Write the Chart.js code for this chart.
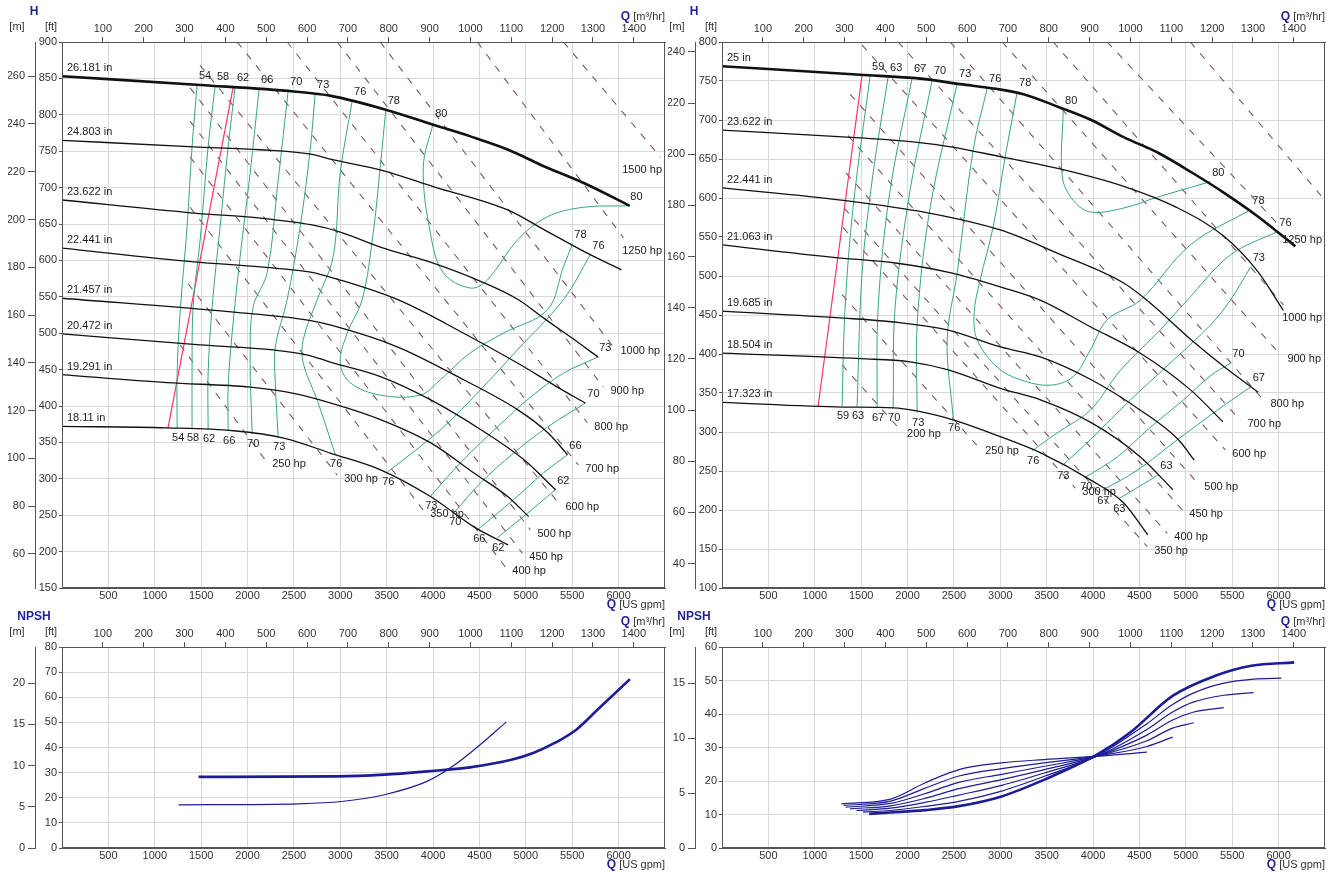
<!DOCTYPE html>
<html>
<head>
<meta charset="utf-8">
<title>Pump performance curves</title>
<script src="https://cdn.jsdelivr.net/npm/chart.js@4.4.1/dist/chart.umd.min.js"></script>
<style>
	html, body { margin: 0; padding: 0; background: #fff; }
	body { width: 1330px; height: 873px; position: relative; overflow: hidden; }
	.panel { position: absolute; }
	.panel canvas { display: block; }
</style>
</head>
<body>
<div class="panel" style="left:0;top:0;width:668px;height:612px"><canvas id="headA"></canvas></div>
<div class="panel" style="left:660px;top:0;width:670px;height:612px"><canvas id="headB"></canvas></div>
<div class="panel" style="left:0;top:610px;width:668px;height:263px"><canvas id="npshA"></canvas></div>
<div class="panel" style="left:660px;top:610px;width:670px;height:263px"><canvas id="npshB"></canvas></div>
<script>
"use strict";

// units
var QMAX = 6500;              // US gpm
var GPM_PER_M3H = 4.402868;
var FT_PER_M = 3.28084;

// ---- pump A (left) : head [ft] vs flow [US gpm] ----
var diamA = ["26.181 in", "24.803 in", "23.622 in", "22.441 in", "21.457 in", "20.472 in", "19.291 in", "18.11 in"];
var headA = [
	[[0,853],[1490,841],[2500,832],[2900,826],[3490,807],[4010,786],[4410,770],[4810,752],[5200,729],[5630,706],[6120,675]],
	[[0,765],[1420,756],[2140,752],[2680,746],[2930,738],[3440,724],[4010,701],[4810,669],[5200,642],[5630,612],[6030,587]],
	[[0,683],[1420,665],[2140,658],[2680,649],[3000,639],[3440,618],[4010,596],[4500,572],[4920,546],[5200,520],[5490,494],[5780,467]],
	[[0,617],[1420,598],[2140,591],[2680,584],[3000,573],[3620,546],[4330,500],[4910,459],[5340,426],[5640,404]],
	[[0,548],[1850,529],[2650,518],[2900,511],[3620,481],[4330,436],[4910,395],[5240,363],[5450,333]],
	[[0,499],[1490,484],[2280,477],[2650,470],[2900,460],[3440,440],[3980,408],[4520,367],[4980,326],[5320,285]],
	[[0,443],[1130,432],[2030,426],[2470,418],[2900,404],[3440,381],[3980,349],[4440,308],[4810,275],[5030,248]],
	[[0,372],[1130,370],[1850,366],[2390,356],[2900,335],[3440,312],[3980,275],[4440,234],[4810,209]]
];
var effA = ["54", "58", "62", "66", "70", "73", "76", "78", "80", "76", "73", "70", "66", "62"];
var effCurvesA = [
	[[1241,370],[1241,445],[1273,528],[1348,646],[1402,756],[1456,841]],
	[[1402,370],[1402,445],[1413,536],[1489,628],[1575,756],[1650,839]],
	[[1575,368],[1575,445],[1618,536],[1704,646],[1791,756],[1866,838]],
	[[1791,366],[1791,426],[1834,500],[1920,605],[2028,720],[2125,836]],
	[[2050,362],[2028,467],[2060,536],[2211,583],[2330,710],[2438,833]],
	[[2330,357],[2298,436],[2298,481],[2427,546],[2567,646],[2675,752],[2729,829]],
	[[2945,334],[2751,408],[2600,459],[2600,491],[2751,546],[2923,605],[2999,720],[3128,819]],
	[[3490,807],[3430,728],[3355,638],[3236,546],[3074,500],[2999,459],[3107,432],[3430,415],[3862,415],[4078,436],[4401,473],[4757,500],[5232,532],[5405,591],[5502,622]],
	[[4002,789],[3894,728],[3970,638],[4110,583],[4401,562],[4585,573],[4908,628],[5232,660],[5620,673],[6106,675]],
	[[3506,309],[4078,367],[4509,422],[4908,477],[5405,546],[5696,608]],
	[[3970,276],[4326,326],[4693,371],[5049,412],[5405,445],[5771,467]],
	[[4229,254],[4509,294],[4865,335],[5232,371],[5642,404]],
	[[4488,231],[4865,271],[5189,308],[5448,333]],
	[[4693,219],[4973,248],[5318,285]]
];
var hpA = ["250 hp", "300 hp", "350 hp", "400 hp", "450 hp", "500 hp", "600 hp", "700 hp", "800 hp", "900 hp", "1000 hp", "1250 hp", "1500 hp"];
var hpLinesA = [
	[[1273,484],[2190,326]],
	[[1359,568],[2967,305]],
	[[1381,673],[3894,257]],
	[[1381,742],[4779,179]],
	[[1381,791],[4962,198]],
	[[1381,837],[5049,230]],
	[[1489,868],[5351,267]],
	[[1888,900],[5566,319]],
	[[2427,900],[5663,377]],
	[[2967,900],[5836,426]],
	[[3430,900],[5944,481]],
	[[4477,900],[6052,631]],
	[[5405,900],[6451,742]]
];
var minFlowA = [[1143,370],[1845,838]];
var npshA = [
	[[1472,28.3],[2963,28.5],[3474,29.2],[3935,30.5],[4396,32.1],[4855,35.2],[5086,37.9],[5316,41.9],[5547,47.2],[5777,55.2],[6122,67.2]],
	[[1256,17.2],[2554,17.6],[3014,18.5],[3474,21.2],[3935,26.5],[4211,32.5],[4488,40.5],[4787,50.1]]
];

// ---- pump B (right) ----
var diamB = ["25 in", "23.622 in", "22.441 in", "21.063 in", "19.685 in", "18.504 in", "17.323 in"];
var headB = [
	[[0,769],[1490,758],[2140,753],[2570,746],[2950,740],[3250,733],[3620,717],[3980,700],[4330,678],[4700,658],[5060,633],[5420,606],[5780,576],[6180,538]],
	[[0,687],[1490,677],[2060,672],[2500,665],[3000,653],[3620,638],[4330,615],[4900,588],[5420,550],[5780,505],[6050,456]],
	[[0,613],[1310,597],[2220,581],[3000,559],[3620,529],[4330,491],[4600,467],[5060,418],[5420,383],[5780,351]],
	[[0,540],[1200,524],[1850,517],[2470,504],[3000,486],[3430,469],[3970,435],[4510,401],[5050,354],[5400,313]],
	[[0,455],[1310,446],[1850,441],[2430,431],[3000,409],[3440,396],[3980,367],[4510,328],[4920,290],[5090,264]],
	[[0,401],[1490,394],[2030,390],[2430,380],[3000,356],[3440,341],[3980,312],[4510,268],[4860,226]],
	[[0,338],[1310,332],[1850,331],[2390,319],[3000,294],[3440,273],[3980,238],[4330,209],[4590,168]]
];
var effB = ["59", "63", "67", "70", "73", "76", "78", "80", "76", "73", "70", "67", "63"];
var effCurvesB = [
	[[1294,333],[1327,460],[1413,588],[1597,757]],
	[[1456,333],[1510,504],[1629,632],[1791,755]],
	[[1672,331],[1683,460],[1812,610],[2050,754]],
	[[1845,331],[1866,460],[2028,610],[2265,751]],
	[[2104,325],[2104,440],[2244,588],[2535,747]],
	[[2492,318],[2427,418],[2535,504],[2708,662],[2859,741]],
	[[3182,736],[3053,653],[2923,563],[2783,495],[2718,453],[2751,418],[2967,383],[3215,367],[3538,360],[3786,371],[3970,405],[4153,444],[4509,469],[5049,540],[5696,585]],
	[[3678,713],[3668,627],[3786,597],[3970,582],[4326,587],[4693,601],[5264,621]],
	[[3344,276],[3614,299],[3970,328],[4294,379],[4725,431],[5016,469],[5480,527],[5987,557]],
	[[3668,257],[3970,290],[4401,341],[4865,392],[5264,437],[5480,469],[5700,512]],
	[[3916,242],[4261,268],[4617,306],[4973,341],[5264,372],[5480,388]],
	[[4099,225],[4477,251],[4908,290],[5340,328],[5700,358]],
	[[4272,214],[4704,245]]
];
var hpB = ["200 hp", "250 hp", "300 hp", "350 hp", "400 hp", "450 hp", "500 hp", "600 hp", "700 hp", "800 hp", "900 hp", "1000 hp", "1250 hp", ""];
var hpLinesB = [
	[[1294,386],[1920,303]],
	[[1294,476],[2762,281]],
	[[1305,562],[3808,228]],
	[[1316,587],[4585,153]],
	[[1338,632],[4800,170]],
	[[1359,680],[4962,200]],
	[[1381,733],[5124,235]],
	[[1510,796],[5426,277]],
	[[1899,800],[5588,315]],
	[[2459,800],[5836,341]],
	[[3020,800],[6019,399]],
	[[3571,800],[6052,463]],
	[[4153,800],[6019,563]],
	[[5049,800],[6500,597]]
];
var minFlowB = [[1036,333],[1510,758]];
var npshB = [
	[[1587,10.2],[1818,10.6],[2185,11.3],[2554,12.5],[3014,15.4],[3475,20.4],[4051,28.0],[4396,34.4],[4857,45.4],[5317,51.4],[5706,54.4],[6168,55.4]],
	[[1518,10.7],[1818,11.2],[2185,12.4],[2554,13.9],[3014,17.0],[3475,21.4],[4051,27.6],[4580,37.1],[4857,42.8],[5086,46.3],[5409,49.2],[5731,50.4],[6030,50.7]],
	[[1449,11.2],[1818,11.9],[2185,13.6],[2554,15.8],[3014,18.7],[3475,22.4],[4051,27.5],[4580,35.4],[4857,40.6],[5086,43.6],[5409,45.6],[5731,46.4]],
	[[1380,11.7],[1818,12.6],[2185,14.8],[2554,17.7],[3014,20.4],[3475,23.4],[4051,27.5],[4580,33.7],[4857,38.2],[5086,40.6],[5409,41.9]],
	[[1334,12.2],[1818,13.3],[2185,16.2],[2554,19.6],[3014,22.0],[3475,24.4],[4051,27.5],[4580,32.0],[4857,35.8],[5086,37.4]],
	[[1311,12.7],[1818,14.0],[2185,17.8],[2554,21.5],[3014,23.7],[3475,25.4],[4051,27.5],[4580,30.3],[4857,33.1]],
	[[1288,13.2],[1818,14.6],[2185,19.4],[2554,23.4],[3014,25.4],[3475,26.4],[4051,27.4],[4580,28.6]]
];

// ---- styles ----
var FONT = '"Liberation Sans", Arial, sans-serif';
var GRID = '#d9d9d9';
var AXIS = '#555';
var BLUE = '#1f1f99';
var GREEN = '#38a57c';
var RED = '#ff3366';
var DASH = '#7a5a5a';
var NAVY = '#1c1c96';

Chart.defaults.font.family = FONT;
Chart.defaults.font.size = 11;
Chart.defaults.color = '#333';

function xy(list) {
	return list.map(function (p) { return { x: p[0], y: p[1] }; });
}

function keepEvery(step, skipZero, skipMax) {
	return function (axis) {
		axis.ticks = axis.ticks.filter(function (t) {
			var r = t.value / step;
			if (Math.abs(r - Math.round(r)) > 1e-6) return false;
			if (skipZero && Math.abs(t.value) < 1e-9) return false;
			if (skipMax && t.value >= axis.max - 1e-9) return false;
			return true;
		});
	};
}
function fixWidth(w) { return function (axis) { axis.width = w; }; }
function fixHeight(h) { return function (axis) { axis.height = h; }; }
function plain(v) { return String(Math.round(v * 1000) / 1000); }

function buildScales(ftMin, ftMax, ftStep, mStep) {
	return {
		x: {
			type: 'linear', position: 'bottom', min: 0, max: QMAX,
			ticks: { stepSize: 500, padding: 0, maxRotation: 0, autoSkip: false, includeBounds: false, callback: plain },
			afterBuildTicks: keepEvery(500, true, true),
			afterFit: fixHeight(14),
			grid: { color: GRID, tickLength: 1, tickColor: AXIS },
			border: { color: AXIS }
		},
		xm: {
			type: 'linear', position: 'top', min: 0, max: QMAX / GPM_PER_M3H,
			ticks: { stepSize: 100, padding: 1, maxRotation: 0, autoSkip: false, includeBounds: false, callback: plain },
			afterBuildTicks: keepEvery(100, true, true),
			afterFit: fixHeight(28),
			grid: { drawOnChartArea: false, tickLength: 5, tickColor: AXIS },
			border: { color: AXIS }
		},
		y: {
			type: 'linear', position: 'left', weight: 0, min: ftMin, max: ftMax,
			ticks: { stepSize: ftStep, padding: 2, autoSkip: false, callback: plain },
			afterFit: fixWidth(27),
			grid: { color: GRID, tickLength: 3, tickColor: AXIS },
			border: { color: AXIS }
		},
		ym: {
			type: 'linear', position: 'left', weight: 1, min: ftMin / FT_PER_M, max: ftMax / FT_PER_M,
			ticks: { stepSize: mStep, padding: 3, autoSkip: false, includeBounds: false, callback: plain },
			afterBuildTicks: keepEvery(mStep, false, false),
			afterFit: fixWidth(27),
			grid: { drawOnChartArea: false, tickLength: 7, tickColor: AXIS },
			border: { color: AXIS }
		}
	};
}

function lineSet(points, color, width, extra) {
	var d = {
		data: xy(points), showLine: true, fill: false,
		borderColor: color, borderWidth: width,
		pointRadius: 0, pointHoverRadius: 0,
		xAxisID: 'x', yAxisID: 'y'
	};
	for (var k in extra) d[k] = extra[k];
	return d;
}

// frame round the plot
var frame = {
	id: 'frame',
	afterDraw: function (chart) {
		var a = chart.chartArea, c = chart.ctx;
		c.save();
		c.strokeStyle = AXIS;
		c.lineWidth = 1;
		c.strokeRect(Math.round(a.left) + 0.5, Math.round(a.top) + 0.5, Math.round(a.right - a.left) - 1, Math.round(a.bottom - a.top) - 1);
		c.restore();
	}
};

function qTitle(c, unit, right, y) {
	c.textAlign = 'left';
	c.font = '11px ' + FONT;
	var wu = c.measureText(' ' + unit).width;
	c.font = 'bold 12px ' + FONT;
	var wq = c.measureText('Q').width;
	var x = right - wu - wq;
	c.fillStyle = BLUE;
	c.fillText('Q', x, y);
	c.font = '11px ' + FONT;
	c.fillStyle = '#333';
	c.fillText(' ' + unit, x + wq, y);
}

function titles(name) {
	return {
		id: 'titles',
		afterDraw: function (chart) {
			var a = chart.chartArea, c = chart.ctx, m = chart.scales.ym;
			c.save();
			c.textBaseline = 'middle';
			c.textAlign = 'center';
			c.fillStyle = BLUE;
			c.font = 'bold 12px ' + FONT;
			c.fillText(name, m.right - 1, a.top - 30);
			c.fillStyle = '#333';
			c.font = '11px ' + FONT;
			c.fillText('[m]', m.right - 18, a.top - 15);
			c.fillText('[ft]', a.left - 11, a.top - 15);
			qTitle(c, '[m\u00b3/hr]', a.right, a.top - 25);
			qTitle(c, '[US gpm]', a.right, a.bottom + 17);
			c.restore();
		}
	};
}

// text on the curves: diameters, efficiencies, power lines
function curveLabels(p) {
	return {
		id: 'curveLabels',
		afterDatasetsDraw: function (chart) {
			var a = chart.chartArea, c = chart.ctx, xs = chart.scales.x, ys = chart.scales.y;
			function px(pt) { return [xs.getPixelForValue(pt[0]), ys.getPixelForValue(pt[1])]; }
			c.save();
			c.font = '11px ' + FONT;
			c.fillStyle = '#222';
			c.textBaseline = 'middle';

			c.textAlign = 'left';
			p.diam.forEach(function (name, i) {
				var s = px(p.head[i][0]);
				c.fillText(name, a.left + 5, s[1] - 8);
			});

			c.textAlign = 'center';
			p.effNames.forEach(function (name, i) {
				var curve = p.eff[i];
				var first = curve[0], last = curve[curve.length - 1];
				var f = px(first), l = px(last);
				if (first[1] < last[1]) c.fillText(name, f[0] + 1, f[1] + 10);
				else c.fillText(name, f[0] + 8, f[1] - 9);
				c.fillText(name, l[0] + 8, l[1] - 9);
			});

			c.textAlign = 'left';
			p.hpNames.forEach(function (name, i) {
				if (!name) return;
				var line = p.hp[i];
				var e = px(line[line.length - 1]);
				var w = c.measureText(name).width;
				var x = e[0] + 7, y = e[1] + 4;
				if (x + w > a.right - 3) { x = a.right - 3 - w; y += 9; }
				c.fillText(name, x, y);
			});
			c.restore();
		}
	};
}

function baseOptions(scales, pad) {
	return {
		responsive: true,
		maintainAspectRatio: false,
		animation: false,
		events: [],
		layout: { padding: pad },
		plugins: { legend: { display: false }, tooltip: { enabled: false } },
		scales: scales
	};
}

function headChart(id, p) {
	var sets = [];
	p.head.forEach(function (curve, i) {
		sets.push(lineSet(curve, '#111', i === 0 ? 2.6 : 1.3, { cubicInterpolationMode: 'monotone' }));
	});
	p.eff.forEach(function (curve) {
		sets.push(lineSet(curve, GREEN, 1, { tension: 0.35 }));
	});
	sets.push(lineSet(p.minFlow, RED, 1.2, {}));
	p.hp.forEach(function (line) {
		sets.push(lineSet(line, DASH, 1.1, { borderDash: [7, 8] }));
	});
	return new Chart(document.getElementById(id), {
		type: 'scatter',
		data: { datasets: sets },
		options: baseOptions(buildScales(p.ft[0], p.ft[1], p.ft[2], p.mStep), p.pad),
		plugins: [frame, titles('H'), curveLabels(p)]
	});
}

function npshChart(id, curves, ftMax, pad) {
	var sets = curves.map(function (curve, i) {
		return lineSet(curve, NAVY, i === 0 ? 2.6 : 1.2, { cubicInterpolationMode: 'monotone' });
	});
	return new Chart(document.getElementById(id), {
		type: 'scatter',
		data: { datasets: sets },
		options: baseOptions(buildScales(0, ftMax, 10, 5), pad),
		plugins: [frame, titles('NPSH')]
	});
}

headChart('headA', {
	head: headA, diam: diamA, eff: effCurvesA, effNames: effA,
	hp: hpLinesA, hpNames: hpA, minFlow: minFlowA,
	ft: [150, 900, 50], mStep: 20,
	pad: { left: 8, right: 3, top: 14, bottom: 10 }
});
headChart('headB', {
	head: headB, diam: diamB, eff: effCurvesB, effNames: effB,
	hp: hpLinesB, hpNames: hpB, minFlow: minFlowB,
	ft: [100, 800, 50], mStep: 20,
	pad: { left: 8, right: 5, top: 14, bottom: 10 }
});
npshChart('npshA', npshA, 80, { left: 8, right: 3, top: 9, bottom: 11 });
npshChart('npshB', npshB, 60, { left: 8, right: 5, top: 9, bottom: 11 });
</script>
</body>
</html>
